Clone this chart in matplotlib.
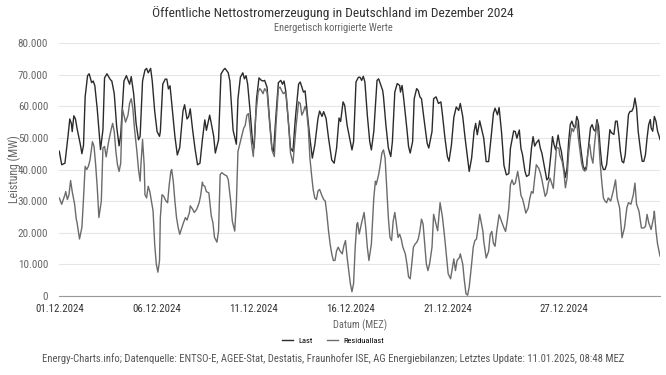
import matplotlib
matplotlib.use("Agg")
import matplotlib.pyplot as plt
from matplotlib.ticker import FuncFormatter

#########
# DATA  #
#########

# hours since 01.12.2024 00:00 and load in 1000 MW
last_hours = [0, 3, 7, 11, 13, 15, 16, 18, 20, 22, 26, 28, 30, 32, 35, 37, 40, 42, 44, 47,
              51, 54, 56, 59, 63, 65, 68, 71, 74, 76, 80, 83, 87, 89, 92, 95, 98, 100, 103, 106,
              108, 110, 113, 115, 118, 121, 124, 125, 128, 131, 133, 135, 137, 140, 143, 146, 149, 153, 155, 158,
              160, 162, 165, 168, 171, 174, 177, 180, 182, 186, 188, 191, 193, 197, 200, 203, 205, 209, 211, 215,
              219, 221, 224, 227, 229, 231, 233, 236, 239, 241, 244, 247, 250, 252, 254, 257, 260, 263, 265, 268,
              271, 274, 276, 278, 280, 283, 286, 289, 292, 296, 298, 300, 302, 304, 307, 310, 313, 316, 320, 322,
              325, 327, 330, 333, 337, 340, 343, 346, 348, 351, 353, 356, 360, 362, 364, 367, 370, 372, 374, 376,
              378, 381, 384, 386, 389, 393, 395, 397, 400, 401, 404, 407, 410, 412, 415, 418, 421, 422, 424, 426,
              430, 432, 434, 437, 439, 442, 444, 446, 448, 451, 455, 457, 461, 463, 466, 469, 472, 474, 477, 480,
              482, 485, 488, 491, 494, 496, 499, 502, 505, 507, 510, 513, 515, 517, 520, 525, 528, 531, 534, 537,
              539, 542, 544, 547, 550, 553, 556, 558, 562, 564, 566, 569, 571, 573, 576, 578, 581, 584, 586, 588,
              590, 593, 595, 597, 600, 603, 605, 608, 610, 612, 614, 617, 619, 621, 624, 626, 628, 630, 632, 634,
              636, 638, 640, 642, 644, 646, 648, 650, 652, 654, 657, 659, 661, 663, 665, 667, 669, 671, 673, 675,
              677, 679, 681, 683, 686, 688, 690, 692, 694, 696, 698, 700, 702, 704, 706, 708, 710, 712, 714, 716,
              719, 721, 723, 725, 727, 729, 731, 732, 734, 736, 738, 740, 742, 743]
last_k = [45.8, 41.5, 42, 51, 56, 54.5, 52, 57, 56, 53, 48, 45, 47.7, 63, 69.7, 70.3, 67.5, 68, 66.5, 59,
          46.3, 52.6, 69, 70.3, 68.5, 68, 64, 53.5, 47.5, 51, 68, 69.7, 67, 69.4, 64, 54.6, 49.4, 50.5, 68, 71.5,
          72, 70.6, 72, 68, 58.5, 52, 50.5, 52, 67, 68.6, 68.6, 65.5, 66.5, 58.5, 50.5, 44.6, 47, 58.5, 60.5, 56,
          56.7, 59.2, 52.4, 46.4, 41.5, 42, 49.4, 55.7, 52.4, 57.2, 54.6, 50.5, 45.2, 49.4, 70.2, 71.5, 72, 70.6, 68, 52.4,
          48, 62.4, 69.2, 70.6, 68.7, 69.7, 67, 58.5, 48.8, 46.8, 62.4, 69, 68.2, 68, 68.2, 66, 56, 46.8, 45.7, 57.1,
          67.5, 68.2, 67, 68, 65, 56.2, 46.8, 45.7, 56.2, 67, 67.7, 66.1, 64.5, 64.9, 57.2, 49.9, 43.6, 47.7, 56.2, 58.5,
          56.8, 58.3, 56.2, 50, 43, 42, 46.8, 56.3, 55.2, 61.4, 60.3, 54, 48.8, 46.2, 48.8, 67.7, 69.2, 69.2, 68.2, 69.5,
          67.7, 57.2, 48.8, 46.2, 52, 68.2, 68.7, 67.2, 65, 63, 54, 46.8, 44.1, 48.8, 64.5, 67.2, 66.6, 64.5, 66.6, 62.4,
          52.7, 47.3, 45.2, 48.8, 62.4, 65.6, 65, 63, 62.4, 56.2, 48.3, 46.8, 52, 62.4, 63, 60.9, 61.4, 57.2, 50, 44.1,
          42.6, 47.7, 56.5, 59.8, 58.7, 60.9, 56.8, 49.8, 43.6, 39.4, 43.6, 52, 54.6, 51, 55.4, 49.9, 42.5, 42.5, 49.9, 57.8,
          59.4, 57.3, 59.6, 51.8, 41.3, 38.3, 38.7, 46.7, 52.2, 52, 49.9, 52.5, 46.7, 44.6, 39.4, 37.8, 38.3, 46.7, 50.4, 47.4,
          48.4, 49.4, 46.7, 45.1, 40.8, 36.7, 37.3, 44.6, 50.4, 47.8, 46.2, 50.9, 47.8, 45.7, 40.4, 37.5, 40.5, 48.9, 54.2, 55.3,
          53.7, 53.2, 56.8, 55.3, 48.9, 44.7, 41, 40, 41, 45.8, 53.2, 54.2, 52.6, 52.1, 55.8, 53.7, 46.8, 41.6, 40, 40,
          41.6, 46.8, 52.6, 51.6, 51.1, 55.3, 55.3, 51.1, 45.8, 42.6, 42.1, 44.7, 51.1, 57.4, 58.4, 58.4, 59.5, 62.6, 59.5, 52.1,
          45.8, 42.6, 42.6, 44.7, 50, 54.2, 55.8, 53.2, 52.1, 56.8, 55.3, 52.1, 50.5, 49.5]

resid_hours = [0, 3, 5, 7, 8, 10, 12, 14, 16, 19, 21, 22, 25, 28, 30, 32, 34, 36, 38, 41,
               43, 45, 47, 49, 52, 54, 56, 58, 61, 64, 66, 68, 70, 72, 74, 76, 78, 80, 82, 85,
               87, 89, 91, 93, 96, 98, 100, 101, 103, 105, 106, 108, 110, 112, 114, 116, 118, 120, 122, 124,
               125, 127, 129, 132, 134, 136, 138, 139, 141, 143, 145, 147, 149, 151, 153, 156, 158, 161, 162, 165,
               167, 170, 173, 175, 177, 178, 180, 182, 185, 188, 190, 192, 195, 197, 199, 201, 204, 207, 209, 212,
               214, 217, 219, 221, 224, 228, 230, 232, 234, 236, 238, 240, 243, 246, 248, 250, 252, 254, 257, 260,
               263, 266, 268, 271, 273, 275, 277, 279, 281, 284, 286, 289, 293, 296, 298, 300, 302, 304, 306, 308,
               310, 312, 314, 316, 318, 320, 322, 325, 327, 329, 331, 333, 335, 337, 339, 341, 343, 345, 347, 350,
               352, 354, 356, 358, 360, 362, 364, 366, 368, 369, 371, 374, 377, 379, 381, 383, 386, 389, 391, 392,
               395, 397, 399, 401, 403, 405, 407, 409, 411, 413, 415, 417, 419, 421, 423, 425, 428, 430, 432, 434,
               436, 438, 440, 442, 444, 446, 448, 450, 452, 454, 456, 458, 461, 463, 466, 468, 471, 474, 477, 479,
               481, 484, 487, 488, 490, 492, 495, 496, 499, 501, 503, 505, 507, 510, 512, 514, 516, 518, 520, 524,
               525, 528, 531, 533, 535, 537, 539, 541, 544, 547, 550, 552, 554, 556, 558, 560, 562, 564, 567, 569,
               571, 573, 575, 577, 580, 582, 584, 586, 588, 590, 593, 595, 597, 599, 601, 603, 605, 607, 609, 611,
               613, 615, 618, 619, 622, 624, 626, 628, 630, 632, 634, 636, 638, 640, 642, 644, 646, 648, 650, 652,
               654, 656, 658, 660, 662, 665, 667, 669, 671, 673, 675, 677, 679, 682, 685, 688, 690, 693, 696, 699,
               702, 704, 707, 710, 712, 714, 717, 720, 723, 725, 727, 729, 732, 735, 736, 738, 740, 743]
resid_k = [31, 29, 30.5, 32, 33, 30.5, 32, 36.5, 33, 29, 24.3, 23.2, 18, 21.7, 31, 41, 40, 41, 43, 48.8,
           47.3, 41.5, 34.2, 24.8, 30, 46.8, 47.3, 44, 48.8, 52.5, 54.6, 52, 45.7, 41.5, 39.4, 42, 59.3, 57.2, 55, 57.2,
           61, 62.4, 59.3, 53, 45.7, 40, 36.3, 41.5, 49.5, 41.5, 32, 31, 34.7, 33, 30, 26.9, 16.4, 10, 7.5, 11.2,
           24.8, 32, 31.6, 30, 29.5, 35.2, 39.4, 40, 36.3, 30, 24.8, 21.7, 19.5, 21.1, 22.7, 24.8, 24, 26.4, 28.5, 27.4,
           26.4, 27.4, 29.5, 32, 36, 35, 34.7, 33, 32.6, 25.3, 23.2, 18.5, 17, 20.6, 38.4, 39, 38.4, 38, 36.8, 30,
           23.7, 20.5, 29, 45.7, 48.8, 53, 54, 57.2, 57.7, 53, 47.8, 44.1, 57.2, 64.5, 65.6, 65, 64, 65.6, 64.5, 55.1,
           46.2, 44.1, 54, 65.6, 66.1, 65, 64, 64.5, 62.9, 53, 45.2, 42, 54, 61.4, 60.9, 57.2, 58.3, 60, 58.3, 53,
           43.6, 38.4, 33.7, 31, 30.5, 33.2, 33.7, 31.6, 30.5, 30, 25.8, 20.6, 16.4, 13.3, 11.2, 11.2, 14.3, 15.4, 14.3, 13.3,
           15.9, 17.5, 12.2, 8, 3.9, 1.3, 3.9, 15.4, 22.7, 23.2, 19.6, 23.2, 26.4, 21.7, 15.4, 11.2, 16.4, 31, 36.3, 35.2,
           38.4, 41.5, 45.2, 46.2, 43.6, 34.2, 24.8, 18.5, 17.5, 23.7, 26.4, 22.7, 18.5, 19.5, 17.9, 15.4, 13.3, 10.1, 6, 5.4,
           10.1, 15.4, 16.4, 16.9, 18, 20.6, 24.3, 22.7, 16.4, 10.1, 8, 10.1, 15.4, 25.8, 22.7, 20.6, 29.5, 24.8, 17.6, 12.2,
           7, 5.4, 10.1, 11.7, 8, 11.2, 12.2, 13.3, 10.1, 4.9, 0.7, 0.2, 2.8, 10.1, 15.4, 17.5, 18, 21.7, 25.8, 20.4,
           17.3, 12, 14.1, 19.4, 20.4, 16.6, 15.7, 20.4, 25.7, 23.6, 21.5, 20.4, 23.6, 27.8, 35.2, 36.7, 35.2, 35.7, 39.4, 36.2,
           31.8, 30.7, 28.6, 26.2, 27.8, 30.9, 33, 32.5, 37.3, 41.5, 40.4, 38.9, 36.7, 34, 31.5, 32.5, 35.7, 37.3, 35.7, 34,
           40.4, 47, 46.7, 44.6, 42.5, 39.4, 34.2, 37.3, 45, 50, 53, 52, 54, 55, 50, 46, 42, 40, 39.5, 40,
           46, 48, 44, 42, 48, 55, 50, 42, 36, 31, 30, 29.5, 31, 30, 33, 36.7, 31, 27.9, 18.4, 21.5,
           27.9, 29.5, 29, 32, 35.7, 29, 26.8, 21.5, 21.5, 22, 25.8, 23.2, 21, 24.7, 26.8, 20.6, 16.4, 12.6]

tick_hours = [0, 120, 240, 360, 480, 624]
tick_labels = ["01.12.2024", "06.12.2024", "11.12.2024", "16.12.2024", "21.12.2024", "27.12.2024"]

TITLE = "Öffentliche Nettostromerzeugung in Deutschland im Dezember 2024"
SUBTITLE = "Energetisch korrigierte Werte"
CREDITS = ("Energy-Charts.info; Datenquelle: ENTSO-E, AGEE-Stat, Destatis, Fraunhofer ISE, "
           "AG Energiebilanzen; Letztes Update: 11.01.2025, 08:48 MEZ")

plt.rcParams["font.family"] = ["Roboto Condensed", "Liberation Sans Narrow", "Roboto", "DejaVu Sans"]

fig = plt.figure(figsize=(6.66, 3.75), dpi=100)
ax = fig.add_axes([0.089, 0.211, 0.902, 0.674])

ax.plot(last_hours, [v * 1000 for v in last_k], color="#2b2b2b", lw=1.0, label="Last")
ax.plot(resid_hours, [v * 1000 for v in resid_k], color="#6b6b6b", lw=1.0, label="Residuallast")

ax.set_xlim(0, 743)
ax.set_ylim(0, 80000)
ax.set_yticks(range(0, 80001, 10000))
ax.yaxis.set_major_formatter(FuncFormatter(lambda v, p: "{:,.0f}".format(v).replace(",", ".")))
ax.set_xticks(tick_hours)
ax.set_xticklabels(tick_labels)

ax.grid(axis="y", color="#e6e6e6", lw=0.8)
ax.set_axisbelow(True)
for s in ["top", "right", "left"]:
    ax.spines[s].set_visible(False)
ax.spines["bottom"].set_color("#999999")
ax.tick_params(axis="y", length=0, labelsize=8, labelcolor="#666666", pad=8)
ax.tick_params(axis="x", length=0, labelsize=7.8, labelcolor="#333333", pad=6)

fig.text(0.021, 0.549, "Leistung (MW)", rotation=90, ha="center", va="center",
         fontsize=8.5, color="#666666")
ax.set_xlabel("Datum (MEZ)", fontsize=7.5, color="#666666", labelpad=4)

fig.text(0.5, 0.966, TITLE, ha="center", va="center", fontsize=9.7, color="#333333")
fig.text(0.5, 0.925, SUBTITLE, ha="center", va="center", fontsize=7.5, color="#666666")
fig.text(0.5, 0.045, CREDITS, ha="center", va="center", fontsize=7.7, color="#555555")

fig.legend(loc="center", bbox_to_anchor=(0.5, 0.093), ncol=2, frameon=False,
           fontsize=6, handlelength=1.3, columnspacing=1.8, handletextpad=0.6)

fig.savefig("out.png", dpi=100)
